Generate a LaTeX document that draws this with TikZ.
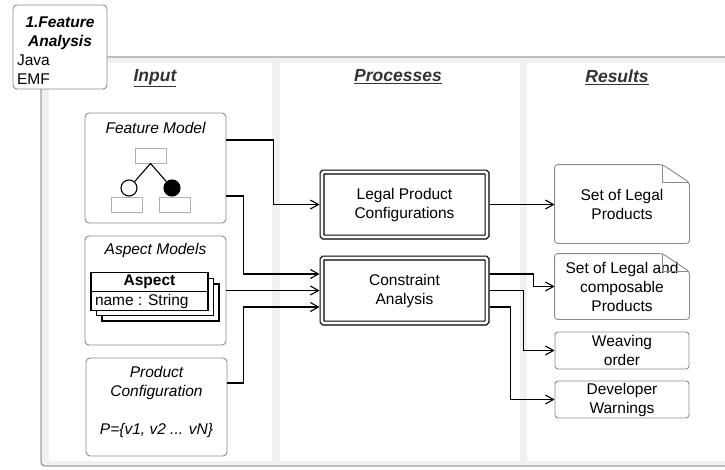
\documentclass[tikz,border=0pt]{standalone}
\usepackage{fontspec}
\setmainfont{Liberation Sans}
\usepackage{xcolor}
\usetikzlibrary{positioning,arrows.meta,shapes.multipart}
\definecolor{LaneGray}{HTML}{F0F0F0}
\definecolor{FrameGray}{HTML}{A0A0A0}
\definecolor{BoxGray}{HTML}{8A8A8A}
\definecolor{SketchGray}{HTML}{B0B0B0}
\definecolor{HeadGray}{HTML}{333333}

\tikzset{
  inbox/.style={draw=BoxGray, line width=0.9pt, rounded corners=4pt, fill=white, minimum width=141pt},
  intitle/.style={font=\fontsize{15.5}{19}\selectfont\itshape, inner sep=0pt},
  procbox/.style={draw=black, double, line width=1.1pt, double distance=2.8pt, rounded corners=1.5pt,
    outer sep=2.5pt, minimum width=165pt, minimum height=65pt, align=center},
  resbox/.style={draw=BoxGray, line width=0.9pt, rounded corners=3pt, minimum width=134pt,
    align=center, inner sep=0pt},
  lanehead/.style={font=\fontsize{17.5}{20}\selectfont\bfseries\itshape, text=HeadGray},
  sketchbox/.style={draw=SketchGray, line width=0.9pt, minimum width=31pt, minimum height=15pt, inner sep=0pt},
  featdot/.style={circle, draw=black, line width=1.1pt, minimum size=16pt, inner sep=0pt},
  umlback/.style={draw=black, fill=white, line width=1.1pt, minimum width=117pt, minimum height=37pt},
  umlclass/.style={rectangle split, rectangle split parts=2, draw=black, fill=white, line width=1.1pt,
    minimum width=117pt, inner xsep=4pt, inner ysep=2pt, rectangle split part align={center,left}},
  flow/.style={line width=1.1pt, -{Straight Barb[length=8pt,width=9pt]}}
}

\begin{document}
\begin{tikzpicture}[x=1pt, y=-1pt, font=\fontsize{15.5}{19}\selectfont]
  \useasboundingbox (0,0) rectangle (725,469);

  % lanes and frame
  \fill[LaneGray] (41,57) rectangle (735,63);
  \fill[LaneGray] (41,57) rectangle (49,466);
  \fill[LaneGray] (272,57) rectangle (280,466);
  \fill[LaneGray] (520,57) rectangle (527,466);
  \fill[LaneGray] (41,461) rectangle (735,466);
  \draw[FrameGray, line width=1.4pt, rounded corners=4pt] (735,57) -- (41,57) -- (41,466) -- (735,466);

  \node[lanehead] (hin) at (155,78) {\underline{Input}};
  \node[lanehead] (hproc) at (398,77) {\underline{Processes}};
  \node[lanehead] (hres) at (617,77) {\underline{Results}};

  % input lane
  \node[inbox, minimum height=110pt] (fm) at (155.5,168) {};
  \node[intitle] (fmtitle) at ([yshift=-15pt]fm.north) {Feature Model};
  \node[sketchbox] (ftop) at (150.5,155.5) {};
  \node[sketchbox] (fleft) at (127,204.5) {};
  \node[sketchbox] (fright) at (174.5,204.5) {};
  \node[featdot, fill=white] (fopt) at (129,188) {};
  \node[featdot, fill=black] (fmand) at (172,188) {};
  \draw[line width=1.1pt] (ftop.south) -- (fopt) (ftop.south) -- (fmand);

  \node[inbox, minimum height=109pt] (am) at (155.5,290.5) {};
  \node[intitle] (amtitle) at ([yshift=-15pt]am.north) {Aspect Models};
  \coordinate (aspc) at (149.5,291.5);
  \node[umlback] (asp3) at ([shift={(11,11)}]aspc) {};
  \node[umlback] (asp2) at ([shift={(5.5,5.5)}]aspc) {};
  \node[umlclass] (asp) at (aspc) {\textbf{Aspect}\nodepart{second}name : String};

  \node[inbox, minimum height=98pt] (pc) at (156.5,407) {};
  \node[intitle, align=center] (pctext) at ([yshift=5.5pt]pc.center) {Product\\Configuration\\[19pt]P=\{v1, v2 ... vN\}};

  % processes lane
  \node[procbox] (lpc) at (404.5,204.5) {Legal Product\\Configurations};
  \node[procbox] (ca) at (404.5,290.5) {Constraint\\Analysis};

  % results lane
  \node[resbox, draw=none, minimum height=78pt] (slp) at (622,204) {Set of Legal\\Products};
  \node[resbox, draw=none, minimum height=65pt] (slc) at (622,286.5) {Set of Legal and\\composable\\Products};
  \node[resbox, minimum height=37pt] (wo) at (622,350.5) {Weaving\\order};
  \node[resbox, minimum height=37pt] (dw) at (622,399.5) {Developer\\Warnings};
  \foreach \doc in {slp,slc} {
    \draw[BoxGray, line width=0.9pt, rounded corners=3pt] (\doc.south west) -- (\doc.north west)
      -- ([xshift=-27pt]\doc.north east) -- ([yshift=-18pt]\doc.north east) -- (\doc.south east) -- cycle;
    \draw[BoxGray, line width=0.9pt] ([xshift=-27pt]\doc.north east) |- ([yshift=-18pt]\doc.north east);
  }

  % connectors
  \draw[flow] ([yshift=28pt]fm.east) -- ++(47,0) |- (lpc.west);
  \draw[flow] ([yshift=-28pt]fm.east) -- ++(17,0) |- ([yshift=16.5pt]ca.west);
  \draw[flow] (am.east) -- (am.east -| ca.west);
  \draw[flow] ([yshift=24pt]pc.east) -- ++(16,0) |- ([yshift=-16.5pt]ca.west);
  \draw[flow] (lpc.east) -- (lpc.east -| slp.west);
  \draw[flow] ([yshift=16.5pt]ca.east) -- ++(44,0) |- (slc.west);
  \draw[flow] (ca.east) -- ++(34,0) |- (wo.west);
  \draw[flow] ([yshift=-16.5pt]ca.east) -- ++(21,0) |- (dw.west);

  % title tab
  \node[draw=BoxGray, fill=white, line width=0.9pt, rounded corners=4pt, minimum width=94pt,
    minimum height=84pt, text width=86pt, inner sep=4pt] (fa) at (60,47)
    {{\centering\bfseries\itshape\rule{0pt}{17pt}1.Feature\\Analysis\par}\raggedright Java\\EMF};
\end{tikzpicture}
\end{document}
